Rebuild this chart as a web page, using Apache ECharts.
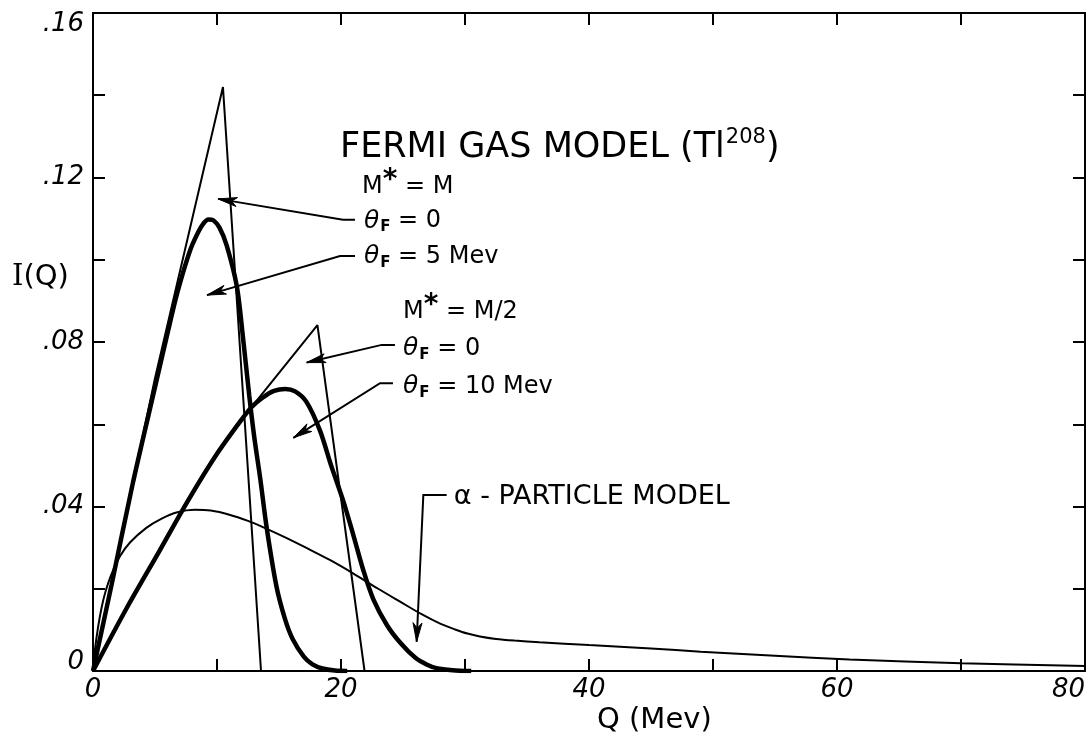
<!DOCTYPE html>
<html><head><meta charset="utf-8">
<script src="https://cdn.jsdelivr.net/npm/echarts@6/dist/echarts.min.js"></script>
<style>html,body{margin:0;padding:0;background:#fff}#c{width:1088px;height:743px}</style>
</head><body><div id="c"></div>
<script>
// ---- data (Q in MeV, I(Q)) ----
const xTicks = [0, 20, 40, 60, 80];
const xTickLabels = ['0', '20', '40', '60', '80'];
const yTicks = [0, 0.04, 0.08, 0.12, 0.16];
const yTickLabels = ['0', '.04', '.08', '.12', '.16'];

// M* = M, theta_F = 0 (thin triangle)
const fermiM_t0 = [[0,0],[5.0,0.0712],[10.48,0.142],[13.55,0]];
// M* = M, theta_F = 5 MeV (thick)
const fermiM_t5 = [[0,0],[1.5,0.021],[3.2,0.0455],[5.0,0.069],[6.0,0.082],[6.8,0.092],[7.82,0.1022],[8.5,0.1068],[8.9,0.1088],[9.3,0.1098],[9.7,0.1096],[10.2,0.1078],[10.78,0.1035],[11.6,0.0935],[12.1,0.081],[12.6,0.067],[13.0,0.057],[13.5,0.0465],[14.0,0.035],[14.8,0.0205],[15.5,0.0125],[16.1,0.0078],[17.0,0.0035],[17.7,0.0016],[18.5,0.0006],[19.5,0.0001],[20.5,0]];
// M* = M/2, theta_F = 0 (thin)
const fermiM2_t0 = [[0,0],[2.7,0.0152],[5.4,0.0294],[7.7,0.0416],[10.0,0.0528],[12.0,0.0612],[12.8,0.0642],[18.1,0.0841],[21.9,0]];
// M* = M/2, theta_F = 10 MeV (thick)
const fermiM2_t10 = [[0,0],[2.7,0.0152],[5.4,0.0294],[7.7,0.0416],[10.0,0.0528],[12.0,0.0612],[12.8,0.0642],[13.7,0.0665],[14.6,0.0681],[15.5,0.0686],[16.3,0.068],[17.2,0.0655],[18.3,0.0585],[19.2,0.050],[20.2,0.0412],[21.0,0.033],[21.8,0.0245],[22.6,0.0175],[23.7,0.0112],[24.8,0.0068],[26.0,0.0032],[26.9,0.0016],[27.7,0.0007],[29.0,0.0002],[30.5,0]];
// alpha-particle model (thin)
const alphaModel = [[0,0],[0.15,0.005],[0.4,0.0105],[0.7,0.0155],[1.0,0.0192],[1.5,0.0236],[2.2,0.028],[3.0,0.0313],[4.3,0.0348],[5.5,0.037],[6.8,0.0386],[8.2,0.0392],[9.5,0.039],[11.0,0.038],[12.5,0.0365],[13.7,0.035],[15.5,0.0325],[17.3,0.0298],[19.1,0.027],[21.0,0.0237],[23.0,0.02],[24.8,0.0168],[26.5,0.0138],[28.0,0.0115],[29.2,0.0101],[30.2,0.0091],[31.2,0.0084],[32.5,0.0078],[34.0,0.0074],[36.0,0.007],[40,0.0063],[45,0.0055],[49,0.0047],[55,0.0037],[61,0.0028],[70,0.0019],[80,0.0012]];

// annotation leader arrows (data coordinates, last point = arrow tip)
const arrowPaths = [
  [[21.13,0.1097],[20.16,0.1097],[10.08,0.1148]],
  [[21.13,0.1009],[19.92,0.1009],[9.19,0.0914]],
  [[24.35,0.0793],[23.28,0.0793],[17.23,0.0750]],
  [[24.19,0.0700],[23.15,0.0700],[16.15,0.0567]],
  [[28.52,0.0428],[26.64,0.0428],[26.10,0.0071]]
];
// annotation texts (data coordinates of left/middle)
const notes = [
  {at:[19.92,0.1272], text:'{big|FERMI GAS MODEL (Tl}{bsup|208}{big|)}'},
  {at:[21.69,0.1177], text:'{t|M}{star|*}{t| = M}'},
  {at:[21.85,0.1094], text:'{th|θ}{sub|F}{t| = 0}'},
  {at:[21.85,0.1007], text:'{th|θ}{sub|F}{t| = 5 Mev}'},
  {at:[25.0,0.0873],  text:'{t|M}{star|*}{t| = M/2}'},
  {at:[25.0,0.0783],  text:'{th|θ}{sub|F}{t| = 0}'},
  {at:[25.0,0.0691],  text:'{th|θ}{sub|F}{t| = 10 Mev}'},
  {at:[29.1,0.0423],  text:'{al|α - PARTICLE MODEL}'}
];

const FONT = 'DejaVu Sans';
const chart = echarts.init(document.getElementById('c'), null, {renderer:'canvas'});

const axisLineStyle = {color:'#000', width:2};
const tickStyle = {show:true, inside:true, length:12, lineStyle:{color:'#000', width:2}};
const labelBase = {fontFamily:FONT, fontStyle:'italic', fontSize:26, color:'#000'};

function thin(data){ return {type:'line', data:data, symbol:'none', smooth:false, lineStyle:{color:'#000', width:2}, silent:true, z:3}; }
function thick(data){ return {type:'line', data:data, symbol:'none', smooth:0.3, lineStyle:{color:'#000', width:4.5}, silent:true, z:4}; }

const option = {
  animation:false,
  backgroundColor:'#fff',
  grid:{left:93, right:3, top:13, bottom:72},
  xAxis:[
    {type:'value', min:0, max:80, interval:10, position:'bottom',
     axisLine:{show:true, onZero:false, lineStyle:axisLineStyle},
     axisTick:tickStyle, splitLine:{show:false},
     axisLabel:Object.assign({}, labelBase, {margin:6, alignMaxLabel:'right',
       formatter:function(v){ const i = xTicks.indexOf(Math.round(v)); return (i>=0 && Math.abs(v-xTicks[i])<1e-9) ? xTickLabels[i] : ''; }})},
    {type:'value', min:0, max:80, interval:10, position:'top',
     axisLine:{show:true, onZero:false, lineStyle:axisLineStyle},
     axisTick:tickStyle, splitLine:{show:false}, axisLabel:{show:false}}
  ],
  yAxis:[
    {type:'value', min:0, max:0.16, interval:0.02, position:'left',
     axisLine:{show:true, onZero:false, lineStyle:axisLineStyle},
     axisTick:tickStyle, splitLine:{show:false},
     axisLabel:Object.assign({}, labelBase, {margin:9,
       formatter:function(v){
         const i = yTicks.findIndex(t => Math.abs(t - v) < 1e-9);
         if (i < 0) return '';
         if (i === 0) return '{z|' + yTickLabels[i] + '}';
         if (i === yTicks.length - 1) return '{m|' + yTickLabels[i] + '}';
         return yTickLabels[i];
       },
       rich:{
         z:Object.assign({}, labelBase, {padding:[0,0,18,0]}),
         m:Object.assign({}, labelBase, {padding:[22,0,0,0]})
       }})},
    {type:'value', min:0, max:0.16, interval:0.02, position:'right',
     axisLine:{show:true, onZero:false, lineStyle:axisLineStyle},
     axisTick:tickStyle, splitLine:{show:false}, axisLabel:{show:false}}
  ],
  series:[
    thin(fermiM_t0),
    thick(fermiM_t5),
    thin(fermiM2_t0),
    thick(fermiM2_t10),
    Object.assign(thin(alphaModel), {smooth:0.3}),
    {type:'custom', silent:true, z:5,
     data:arrowPaths.map(p => p[0]),
     renderItem:function(params, api){
       const pts = arrowPaths[params.dataIndex].map(p => api.coord(p));
       const n = pts.length, tip = pts[n-1], prev = pts[n-2];
       const dx = tip[0]-prev[0], dy = tip[1]-prev[1];
       const L = Math.hypot(dx, dy), ux = dx/L, uy = dy/L;
       const len = 19, hw = 4.5;
       const bx = tip[0]-ux*len, by = tip[1]-uy*len;
       const head = [[tip[0],tip[1]],[bx-uy*hw, by+ux*hw],[tip[0]-ux*len*0.72, tip[1]-uy*len*0.72],[bx+uy*hw, by-ux*hw]];
       return {type:'group', children:[
         {type:'polyline', shape:{points:pts}, style:{stroke:'#000', lineWidth:2, fill:null}},
         {type:'polygon', shape:{points:head}, style:{fill:'#000', stroke:'#000', lineWidth:1}}
       ]};
     }},
    {type:'scatter', silent:true, z:6, symbol:'circle', symbolSize:0,
     itemStyle:{color:'#000'},
     data:notes.map(n => ({value:n.at, name:n.text})),
     label:{show:true, position:'right', distance:0, color:'#000', opacity:1, fontFamily:FONT,
       formatter:function(p){ return p.name; },
       rich:{
         big:{fontFamily:FONT, fontSize:35, color:'#000'},
         bsup:{fontFamily:FONT, fontSize:21, color:'#000', padding:[0,0,20,1]},
         t:{fontFamily:FONT, fontSize:24, color:'#000'},
         th:{fontFamily:FONT, fontSize:25, fontStyle:'italic', color:'#000'},
         sub:{fontFamily:FONT, fontSize:15, fontWeight:'bold', color:'#000', padding:[12,0,0,1]},
         star:{fontFamily:FONT, fontSize:28, fontWeight:'bold', color:'#000', padding:[0,0,12,0]},
         al:{fontFamily:FONT, fontSize:27, color:'#000'}
       }},
     emphasis:{disabled:true}}
  ],
  graphic:[
    {type:'text', left:12, top:263, silent:true,
     style:{text:'{s|I}{n|(Q)}', rich:{s:{fontFamily:'DejaVu Serif', fontSize:29, color:'#000'}, n:{fontFamily:FONT, fontSize:29, color:'#000'}}}},
    {type:'text', left:597, top:706, silent:true,
     style:{text:'Q (Mev)', fontFamily:FONT, fontSize:29, fill:'#000'}}
  ]
};
chart.setOption(option);
</script>
</body></html>
